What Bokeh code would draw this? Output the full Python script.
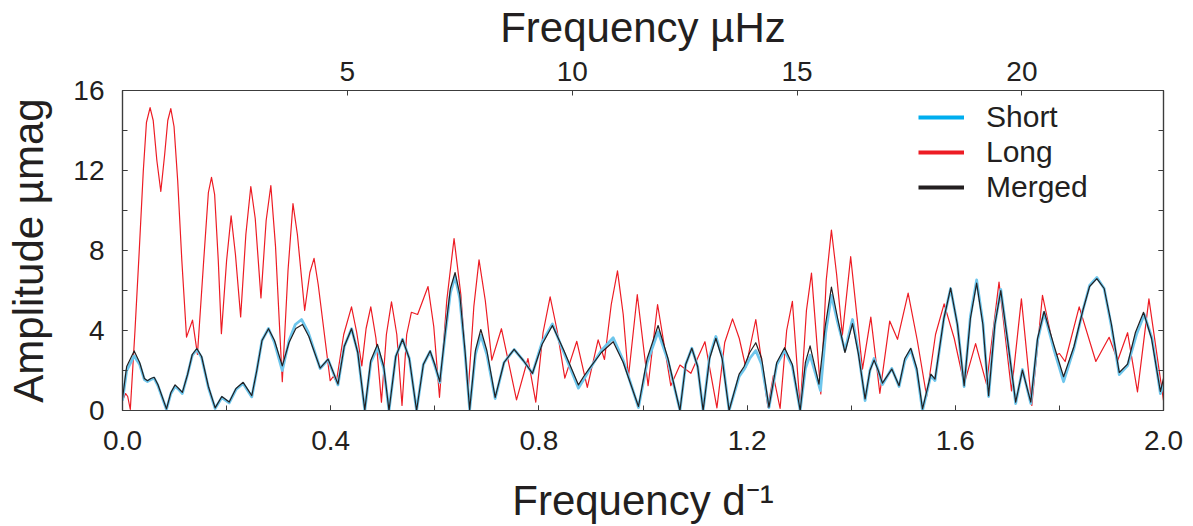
from bokeh.plotting import figure
from bokeh.models import (Range1d, LinearAxis, SingleIntervalTicker, FixedTicker,
                          PrintfTickFormatter, Legend, LegendItem)
from bokeh.embed import file_html
from bokeh.resources import INLINE

# ---------------- data ----------------
long_freq = [0.000, 0.006, 0.010, 0.015, 0.024, 0.032, 0.040, 0.046, 0.053, 0.059, 0.066, 0.0736,
             0.081, 0.087, 0.0928, 0.099, 0.106, 0.114, 0.123, 0.1345, 0.144, 0.156, 0.165, 0.171,
             0.177, 0.184, 0.190, 0.200, 0.2087, 0.217, 0.227, 0.237, 0.2465, 0.255, 0.266, 0.276,
             0.285, 0.294, 0.307, 0.318, 0.3275, 0.336, 0.350, 0.360, 0.368, 0.376, 0.399, 0.405,
             0.411, 0.425, 0.440, 0.450, 0.4598, 0.468, 0.477, 0.487, 0.4975, 0.507, 0.5168, 0.527,
             0.537, 0.546, 0.555, 0.567, 0.587, 0.598, 0.609, 0.623, 0.637, 0.650, 0.664, 0.675,
             0.685, 0.697, 0.7095, 0.728, 0.757, 0.779, 0.794, 0.808, 0.8216, 0.835, 0.8498, 0.8728,
             0.893, 0.9138, 0.926, 0.939, 0.951, 0.962, 0.972, 0.989, 1.0098, 1.028, 1.0534, 1.071,
             1.092, 1.119, 1.142, 1.157, 1.172, 1.185, 1.1975, 1.2167, 1.240, 1.2505, 1.2634, 1.276,
             1.287, 1.302, 1.314, 1.3237, 1.3416, 1.352, 1.362, 1.372, 1.383, 1.399, 1.4217, 1.4377,
             1.455, 1.474, 1.489, 1.5094, 1.527, 1.545, 1.562, 1.5785, 1.598, 1.617, 1.639, 1.660,
             1.684, 1.708, 1.727, 1.747, 1.7675, 1.792, 1.800, 1.811, 1.838, 1.870, 1.8955, 1.912,
             1.931, 1.950, 1.972, 2.000]
long_amp = [0.5, 0.85, 0.7, 0.05, 4.0, 7.9, 12.0, 14.4, 15.14, 14.5, 12.5, 10.95,
            12.8, 14.5, 15.09, 14.2, 11.5, 7.5, 3.67, 4.52, 2.81, 7.5, 10.9, 11.66,
            10.8, 7.5, 3.84, 7.5, 9.73, 7.8, 4.68, 8.8, 11.2, 9.6, 5.63, 9.5,
            11.25, 8.2, 1.44, 7.0, 10.34, 8.8, 5.0, 6.9, 7.61, 6.3, 1.49, 1.7,
            1.45, 3.8, 5.18, 3.9, 2.23, 4.1, 5.18, 3.6, 0.42, 3.8, 5.43, 3.8,
            0.25, 3.8, 4.91, 4.8, 6.2, 4.2, 0.66, 5.5, 8.6, 5.8, 0.9, 5.2,
            7.53, 5.5, 2.52, 4.09, 0.53, 2.6, 0.42, 3.9, 5.68, 4.0, 1.62, 3.46,
            1.16, 3.53, 2.55, 5.3, 6.98, 4.8, 1.66, 5.79, 1.24, 5.3, 1.24, 2.27,
            1.86, 3.44, 0.13, 3.4, 4.58, 3.6, 2.15, 4.55, 0.17, 1.74, 0.1, 4.0,
            5.46, 0.1, 5.0, 6.87, 0.83, 6.5, 9.02, 6.8, 3.77, 7.69, 2.07, 4.67,
            0.86, 4.47, 3.56, 5.87, 3.5, 0.7, 3.8, 5.33, 3.6, 1.32, 3.34, 1.32,
            6.42, 0.98, 5.58, 0.25, 5.76, 2.75, 2.85, 2.45, 5.18, 2.45, 3.66, 2.5,
            3.89, 0.93, 5.58, 0.5]

merged_freq = [0.000, 0.008, 0.0224, 0.033, 0.042, 0.048, 0.0545, 0.0608, 0.068, 0.0845, 0.093, 0.101,
               0.108, 0.115, 0.125, 0.134, 0.1428, 0.152, 0.165, 0.178, 0.1908, 0.205, 0.218, 0.2318,
               0.2484, 0.258, 0.268, 0.2805, 0.292, 0.307, 0.320, 0.333, 0.3458, 0.358, 0.3797, 0.395,
               0.414, 0.426, 0.440, 0.452, 0.4655, 0.477, 0.4899, 0.502, 0.512, 0.525, 0.538, 0.551,
               0.565, 0.578, 0.591, 0.600, 0.6096, 0.620, 0.630, 0.639, 0.648, 0.658, 0.667, 0.678,
               0.6884, 0.700, 0.716, 0.733, 0.7524, 0.770, 0.7877, 0.806, 0.826, 0.848, 0.876, 0.886,
               0.896, 0.920, 0.9427, 0.962, 0.9913, 1.008, 1.029, 1.048, 1.071, 1.082, 1.0938, 1.105,
               1.1155, 1.128, 1.140, 1.152, 1.1654, 1.1847, 1.1942, 1.205, 1.2167, 1.228, 1.242, 1.257,
               1.272, 1.287, 1.302, 1.312, 1.321, 1.338, 1.350, 1.362, 1.374, 1.388, 1.4025, 1.414,
               1.4267, 1.436, 1.444, 1.452, 1.460, 1.478, 1.492, 1.503, 1.5145, 1.526, 1.537, 1.553,
               1.561, 1.578, 1.591, 1.604, 1.617, 1.629, 1.641, 1.653, 1.664, 1.676, 1.6874, 1.700,
               1.716, 1.729, 1.745, 1.758, 1.7706, 1.789, 1.808, 1.828, 1.845, 1.858, 1.872, 1.886,
               1.900, 1.915, 1.931, 1.946, 1.9616, 1.977, 1.994, 2.000]
merged_amp = [0.6, 2.2, 2.98, 2.4, 1.6, 1.49, 1.6, 1.66, 1.3, 0.08, 0.9, 1.28,
              1.1, 0.91, 1.8, 2.8, 3.1, 2.7, 1.2, 0.13, 0.7, 0.42, 1.1, 1.41,
              0.74, 2.0, 3.5, 4.09, 3.5, 2.23, 3.4, 4.1, 4.3, 3.7, 2.12, 2.57,
              1.32, 3.2, 4.09, 2.9, 0.03, 2.5, 3.31, 2.2, 0.0, 2.7, 3.56, 2.6,
              0.0, 2.3, 2.98, 2.3, 1.44, 3.9, 6.1, 6.9, 5.8, 3.0, 0.05, 3.0,
              4.05, 3.0, 0.66, 2.4, 3.06, 2.5, 1.86, 3.3, 4.25, 3.0, 1.28, 1.7,
              2.07, 2.9, 3.44, 2.4, 0.2, 2.6, 4.25, 2.6, 0.0, 2.3, 3.11, 2.2,
              0.0, 2.6, 3.61, 2.6, 0.0, 1.82, 2.2, 2.9, 3.39, 2.6, 0.17, 2.4,
              3.14, 2.3, 0.0, 2.4, 3.23, 1.32, 4.2, 6.17, 4.6, 2.9, 4.34, 2.8,
              0.58, 2.0, 2.52, 2.0, 1.37, 2.07, 1.24, 2.6, 3.11, 2.1, 0.08, 1.82,
              1.57, 4.6, 6.12, 4.3, 1.24, 4.6, 6.37, 4.3, 0.74, 4.3, 5.99, 3.6,
              0.42, 2.02, 0.42, 3.6, 4.96, 3.3, 1.69, 3.2, 5.0, 6.2, 6.59, 6.1,
              4.3, 1.9, 2.32, 3.9, 4.91, 3.6, 0.95, 1.6]

short_freq = [0.000, 0.008, 0.0224, 0.033, 0.042, 0.048, 0.0545, 0.0608, 0.068, 0.0845, 0.093, 0.101,
              0.108, 0.115, 0.125, 0.134, 0.1428, 0.152, 0.165, 0.178, 0.1908, 0.205, 0.218, 0.2318,
              0.2484, 0.258, 0.268, 0.2805, 0.292, 0.307, 0.320, 0.332, 0.344, 0.357, 0.3797, 0.395,
              0.414, 0.426, 0.440, 0.452, 0.4655, 0.477, 0.4899, 0.502, 0.512, 0.525, 0.538, 0.551,
              0.565, 0.578, 0.591, 0.600, 0.6096, 0.620, 0.630, 0.639, 0.648, 0.658, 0.667, 0.678,
              0.6884, 0.700, 0.716, 0.733, 0.7524, 0.770, 0.7877, 0.806, 0.826, 0.848, 0.876, 0.886,
              0.896, 0.920, 0.9427, 0.962, 0.9913, 1.008, 1.029, 1.048, 1.071, 1.082, 1.0938, 1.105,
              1.1155, 1.128, 1.140, 1.152, 1.1654, 1.1847, 1.1942, 1.205, 1.2167, 1.228, 1.242, 1.257,
              1.272, 1.287, 1.302, 1.312, 1.321, 1.341, 1.351, 1.362, 1.374, 1.388, 1.4025, 1.414,
              1.4267, 1.436, 1.444, 1.452, 1.460, 1.478, 1.492, 1.503, 1.5145, 1.526, 1.537, 1.553,
              1.561, 1.578, 1.591, 1.604, 1.617, 1.629, 1.641, 1.653, 1.664, 1.676, 1.6874, 1.700,
              1.716, 1.729, 1.745, 1.758, 1.7706, 1.789, 1.808, 1.828, 1.845, 1.858, 1.872, 1.886,
              1.900, 1.915, 1.931, 1.948, 1.963, 1.978, 1.994, 2.000]
short_amp = [0.5, 2.0, 2.73, 2.3, 1.55, 1.45, 1.55, 1.62, 1.25, 0.05, 0.85, 1.2,
             1.05, 0.85, 1.8, 2.75, 3.05, 2.65, 1.15, 0.1, 0.65, 0.38, 1.05, 1.35,
             0.68, 2.0, 3.5, 4.1, 3.4, 2.0, 3.5, 4.3, 4.55, 3.9, 2.1, 2.55,
             1.28, 3.2, 4.09, 2.9, 0.0, 2.4, 3.15, 2.1, 0.0, 2.7, 3.56, 2.6,
             0.0, 2.3, 2.95, 2.25, 1.4, 3.8, 5.9, 6.7, 5.6, 2.9, 0.05, 2.8,
             3.77, 2.8, 0.6, 2.4, 3.05, 2.5, 1.86, 3.4, 4.33, 2.9, 1.12, 1.55,
             2.0, 3.0, 3.64, 2.5, 0.15, 2.4, 3.94, 2.5, 0.0, 2.3, 3.11, 2.2,
             0.0, 2.7, 3.7, 2.7, 0.0, 1.7, 2.05, 2.6, 3.0, 2.3, 0.15, 2.3,
             3.0, 2.2, 0.0, 2.1, 2.77, 1.0, 3.9, 5.76, 4.4, 3.0, 4.55, 2.9,
             0.5, 2.0, 2.6, 2.0, 1.3, 2.1, 1.2, 2.5, 3.05, 2.0, 0.0, 1.75,
             1.5, 4.6, 6.1, 4.3, 1.2, 4.7, 6.53, 4.4, 0.7, 4.3, 6.05, 3.6,
             0.35, 2.05, 0.35, 3.5, 4.9, 3.1, 1.44, 3.1, 5.0, 6.25, 6.65, 6.1,
             4.2, 1.8, 2.25, 3.8, 4.8, 3.6, 0.85, 1.3]

x_tick_interval = 0.4
y_tick_interval = 4
uhz_ticks = [5, 10, 15, 20]
UHZ_PER_CPD = 1e6 / 86400.0   # 1 d^-1 expressed in microhertz

legend_x = [-1.0]   # off-range anchor for legend-only swatches
legend_y = [-1.0]

FONT = "Liberation Sans"
TXT = "#231F20"
AX = "#3C3C3C"

p = figure(width=1190, height=526, output_backend="svg", toolbar_location=None,
           x_range=Range1d(0, 2), y_range=Range1d(0, 16),
           min_border_left=122, min_border_right=27, min_border_top=89, min_border_bottom=114)
p.grid.visible = False
p.outline_line_color = AX
p.outline_line_width = 1.2
p.background_fill_color = "white"
p.border_fill_color = "white"


def style_axis(ax, labels=True):
    ax.axis_line_color = AX
    ax.axis_line_width = 1.2
    ax.major_tick_line_color = AX
    ax.minor_tick_line_color = AX
    ax.major_tick_in = 5
    ax.major_tick_out = 0
    ax.minor_tick_in = 5
    ax.minor_tick_out = 0
    ax.major_label_text_font = FONT
    ax.major_label_text_font_size = "28px"
    ax.major_label_text_color = TXT if labels else None
    ax.axis_label_text_font = FONT
    ax.axis_label_text_font_size = "42px"
    ax.axis_label_text_font_style = "normal"
    ax.axis_label_text_color = TXT


xa = p.xaxis[0]
xa.ticker = SingleIntervalTicker(interval=x_tick_interval, num_minor_ticks=2)
xa.formatter = PrintfTickFormatter(format="%.1f")
xa.axis_label = "Frequency d\u207b\u00b9"
style_axis(xa)
xa.major_label_standoff = 20
xa.axis_label_standoff = 24

ya = p.yaxis[0]
ya.ticker = SingleIntervalTicker(interval=y_tick_interval, num_minor_ticks=2)
ya.axis_label = "Amplitude \u00b5mag"
style_axis(ya)
ya.major_label_standoff = 18
ya.axis_label_standoff = 18

ra = LinearAxis(ticker=SingleIntervalTicker(interval=y_tick_interval, num_minor_ticks=2))
style_axis(ra, labels=False)
ra.major_label_text_font_size = "1px"
ra.major_label_standoff = 0
ra.axis_label_standoff = 0
p.add_layout(ra, "right")

p.extra_x_ranges = {"uhz": Range1d(0, 2 * UHZ_PER_CPD)}
ta = LinearAxis(x_range_name="uhz", ticker=FixedTicker(ticks=uhz_ticks),
                axis_label="Frequency \u00b5Hz")
style_axis(ta)
ta.major_label_standoff = 10
ta.axis_label_standoff = 8
p.add_layout(ta, "above")

p.line(long_freq, long_amp, line_color="#ED1C24", line_width=1.2, line_join="round")
p.line(short_freq, short_amp, line_color="#6EC6EC", line_width=2.8, line_join="round")
p.line(merged_freq, merged_amp, line_color="#231F20", line_width=1.2, line_join="round")

# legend-only renderers (thicker swatches as in the reference)
lg_s = p.line(legend_x, legend_y, line_color="#00AEEF", line_width=4)
lg_l = p.line(legend_x, legend_y, line_color="#ED1C24", line_width=4)
lg_m = p.line(legend_x, legend_y, line_color="#231F20", line_width=4)
legend = Legend(items=[LegendItem(label="Short", renderers=[lg_s]),
                       LegendItem(label="Long", renderers=[lg_l]),
                       LegendItem(label="Merged", renderers=[lg_m])],
                location=(796, 206))
legend.label_text_font = FONT
legend.label_text_font_size = "30px"
legend.label_text_color = TXT
legend.glyph_width = 46
legend.glyph_height = 30
legend.label_standoff = 22
legend.spacing = 1
legend.padding = 0
legend.margin = 0
legend.border_line_color = None
legend.background_fill_alpha = 0
p.add_layout(legend, "center")

open("out.html", "w").write(file_html(p, INLINE))
